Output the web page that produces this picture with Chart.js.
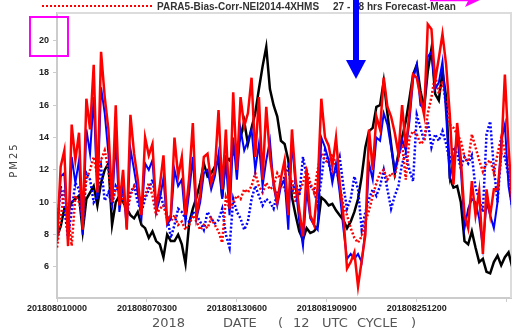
<!DOCTYPE html>
<html>
<head>
<meta charset="utf-8">
<title>PM25</title>
<script src="https://cdn.jsdelivr.net/npm/chart.js@4"></script>
<style>
  html, body { margin: 0; padding: 0; background: #fff; }
  #grafico { display: block; }
</style>
</head>
<body>
<canvas id="grafico" width="519" height="333"></canvas>
<script>
// Valores, uno cada 6 horas desde 2018080100
const paso = 6;

const observado = [
    7.9, 8.5, 9.6, 9.4, 10.0, 10.2, 10.4, 8.2, 10.2, 10.6,
    11.0, 9.8, 11.2, 12.0, 12.4, 8.6, 10.0, 10.4, 10.0, 9.6,
    9.2, 9.0, 9.4, 8.6, 8.4, 7.8, 8.2, 7.6, 7.4, 6.6,
    8.0, 7.6, 7.6, 8.0, 7.4, 6.2, 8.7, 9.6, 10.3, 11.2,
    12.4, 11.6, 11.8, 12.2, 12.6, 10.3, 12.8, 12.6, 13.0, 13.4,
    14.0, 15.0, 13.6, 14.6, 15.5, 17.0, 18.4, 19.6, 17.0, 16.0,
    15.3, 13.8, 13.6, 12.6, 10.3, 9.2, 8.2, 7.7, 8.4, 8.1,
    8.2, 8.5, 10.3, 10.1, 9.8, 9.9, 9.5, 9.2, 8.9, 8.4,
    8.8, 9.4, 10.2, 11.6, 13.4, 14.4, 14.6, 15.9, 16.0, 17.5,
    15.5, 13.6, 11.8, 13.0, 14.0, 15.0, 16.4, 17.9, 18.5, 16.9,
    15.8, 18.1, 19.5, 16.7, 16.3, 18.1, 16.5, 11.5, 10.9, 11.0,
    10.0, 7.6, 7.4, 8.2, 7.2, 6.3, 6.5, 5.7, 5.6, 6.3,
    6.7, 6.1, 6.6, 6.9, 6.0
];

const rojoSolido = [
    7.6, 12.2, 13.2, 7.3, 14.8, 12.6, 14.3, 8.3, 16.4, 14.5,
    18.5, 10.6, 19.3, 16.5, 14.5, 10.0, 16.0, 9.8, 12.0, 8.3,
    15.4, 13.0, 11.4, 9.2, 14.0, 12.9, 13.6, 9.6, 11.0, 12.9,
    8.8, 9.2, 14.0, 11.6, 12.8, 9.2, 11.5, 14.9, 9.2, 10.5,
    12.8, 13.0, 11.2, 12.0, 15.7, 10.8, 14.5, 9.6, 16.8, 12.0,
    16.5, 14.7, 15.5, 17.7, 12.8, 16.5, 11.4, 15.9, 12.8, 11.2,
    10.0, 11.5, 12.6, 9.2, 14.5, 11.4, 9.5, 7.9, 12.0, 9.2,
    8.6, 11.0, 16.4, 14.0, 13.5, 12.2, 14.0, 11.2, 9.2, 5.9,
    6.3, 6.9, 4.8, 6.4, 8.0, 14.5, 12.0, 15.3, 14.5, 17.7,
    15.9, 15.3, 14.3, 13.0, 16.0, 13.4, 15.5, 17.9, 17.7, 16.5,
    15.4, 21.0, 20.7, 17.5, 18.9, 20.4, 18.5, 15.4, 11.1, 14.9,
    12.7, 9.2, 8.4, 11.3, 9.2, 10.7, 6.8, 10.8, 9.2, 10.8,
    10.8, 13.0, 17.9, 13.4, 10.0
];

const azulSolido = [
    7.8, 11.6, 11.8, 7.8, 12.8, 11.2, 12.6, 8.0, 14.5, 13.0,
    16.5, 10.2, 17.1, 15.5, 13.0, 9.8, 13.9, 9.4, 11.2, 8.4,
    13.3, 12.0, 10.6, 9.0, 12.4, 12.0, 12.6, 9.4, 10.2, 11.5,
    8.6, 9.0, 12.0, 11.0, 11.4, 8.8, 10.6, 12.8, 9.0, 10.0,
    11.8, 12.0, 10.8, 11.6, 13.0, 10.2, 12.6, 9.2, 14.0, 11.4,
    14.5, 13.2, 13.8, 14.5, 12.0, 13.6, 11.0, 12.6, 13.8, 11.0,
    9.8, 11.0, 11.4, 8.3, 13.8, 11.0, 8.8, 7.3, 10.8, 9.0,
    8.6, 8.3, 14.0, 13.4, 12.6, 11.2, 12.4, 10.6, 8.4, 6.5,
    6.8, 6.5, 6.8, 6.3, 8.3, 12.4, 11.4, 14.0, 13.8, 15.5,
    14.8, 13.4, 12.0, 12.8, 13.9, 13.2, 15.0, 17.6, 18.5, 16.0,
    15.8, 19.0, 19.3, 17.0, 17.4, 18.7, 15.4, 11.5, 12.6, 14.0,
    12.1, 8.4, 9.6, 10.2, 10.0, 9.0, 7.2, 10.0, 9.2, 8.4,
    10.0, 13.8, 14.8, 11.0, 9.6
];

// PARA5-Bias-Corr-NEI2014-4XHMS (rojo punteado)
const rojoPunteado = [
    7.2, 9.0, 10.8, 9.2, 7.3, 10.4, 10.0, 9.2, 11.4, 12.0,
    12.8, 11.6, 12.6, 13.2, 12.0, 10.0, 10.8, 11.0, 10.2, 9.2,
    10.4, 11.0, 10.6, 10.0, 10.4, 11.2, 10.4, 9.2, 9.6, 9.8,
    9.0, 8.8, 9.2, 8.6, 8.8, 8.3, 8.6, 9.2, 8.8, 8.3,
    8.6, 8.4, 9.0, 8.6, 8.2, 7.5, 10.3, 9.6, 10.0, 10.4,
    10.2, 10.8, 10.6, 11.0, 11.8, 11.0, 10.6, 11.2, 10.8, 11.0,
    11.8, 11.4, 10.8, 10.4, 11.4, 10.0, 10.6, 11.2, 12.0, 11.2,
    10.6, 12.0, 13.0, 12.6, 12.4, 13.0, 12.2, 11.0, 9.8, 9.2,
    8.4, 7.8, 7.5, 7.9, 8.8, 9.5, 10.4, 11.2, 11.8, 12.0,
    11.4, 11.8, 11.6, 12.8, 13.6, 11.4, 14.0, 14.4, 14.2, 13.6,
    13.8, 15.5, 16.5, 17.9, 16.7, 17.5, 16.0, 14.8, 14.6, 14.2,
    13.8, 12.8, 12.5, 14.2, 13.4, 12.6, 11.9, 12.4, 12.6, 11.8,
    13.0, 14.0, 13.2, 12.0, 10.0
];

const azulPunteado = [
    8.3, 11.0, 9.6, 7.8, 9.5, 11.2, 10.8, 8.5, 11.8, 11.4,
    10.0, 10.4, 12.2, 10.1, 10.6, 9.8, 11.0, 10.6, 10.2, 9.4,
    10.6, 11.0, 10.0, 9.4, 10.2, 10.8, 11.4, 10.0, 10.6, 9.8,
    9.2, 7.8, 8.6, 9.6, 9.4, 9.0, 8.8, 9.4, 9.2, 8.8,
    8.3, 9.4, 9.0, 8.7, 8.9, 9.6, 8.0, 7.2, 10.2, 9.4,
    9.0, 8.3, 8.8, 10.2, 11.0, 10.4, 9.8, 10.2, 10.0, 9.6,
    10.6, 11.0, 11.6, 12.2, 10.6, 11.2, 10.4, 12.8, 11.6, 11.0,
    10.8, 9.8, 11.4, 13.2, 12.4, 11.6, 12.0, 12.8, 11.0, 9.6,
    10.2, 11.6, 10.8, 8.3, 9.4, 10.2, 10.8, 10.4, 11.0, 12.0,
    10.8, 9.6, 10.4, 11.0, 12.4, 13.0, 12.0, 11.3, 15.4, 14.6,
    13.8, 15.0, 13.4, 14.2, 13.8, 14.4, 13.6, 12.5, 13.4, 13.0,
    12.1, 12.8, 12.4, 12.9, 10.9, 10.2, 9.4, 14.2, 15.0, 12.1,
    10.0, 13.0, 12.8, 11.6, 9.6
];

// Marcas de los ejes (horas desde el inicio)
const xTicks = [0, 147, 294, 441, 588, 735];
const xEtiquetas = ['201808010000', '201808070300', '201808130600', '201808190900', '201808251200', ''];
const yTicks = [6, 8, 10, 12, 14, 16, 18, 20];

function serie(valores) {
    return valores.map((v, i) => ({ x: i * paso, y: v }));
}

const fuenteEjes = { family: '"Liberation Sans", Arial, sans-serif', size: 9, weight: 'bold' };

// Marco, leyenda, títulos y anotaciones dibujadas a mano
const decoraciones = {
    id: 'decoraciones',
    beforeDatasetsDraw(chart) {
        const ctx = chart.ctx;
        const a = chart.chartArea;
        ctx.save();
        ctx.strokeStyle = '#dcdcdc';
        ctx.lineWidth = 2;
        ctx.beginPath();
        ctx.moveTo(a.left, a.top);
        ctx.lineTo(a.right, a.top);
        ctx.lineTo(a.right, a.bottom);
        ctx.stroke();
        ctx.restore();
    },
    afterDraw(chart) {
        const ctx = chart.ctx;
        ctx.save();

        // leyenda
        ctx.strokeStyle = '#ff0000';
        ctx.lineWidth = 2;
        ctx.setLineDash([2, 2]);
        ctx.beginPath();
        ctx.moveTo(42, 6);
        ctx.lineTo(153, 6);
        ctx.stroke();
        ctx.setLineDash([]);
        ctx.fillStyle = '#333';
        ctx.font = 'bold 10px "Liberation Sans", Arial, sans-serif';
        ctx.textBaseline = 'alphabetic';
        ctx.fillText('PARA5-Bias-Corr-NEI2014-4XHMS', 157, 10);
        ctx.fillText('27 - 48 hrs Forecast-Mean', 333, 10);

        // título del eje y
        ctx.save();
        ctx.translate(17, 160);
        ctx.rotate(-Math.PI / 2);
        ctx.textAlign = 'center';
        ctx.fillStyle = '#444';
        ctx.font = '10px "DejaVu Sans", sans-serif';
        ctx.letterSpacing = '2px';
        ctx.fillText('PM25', 0, 0);
        ctx.restore();

        // título del eje x
        ctx.fillStyle = '#555';
        ctx.font = '13px "DejaVu Sans", sans-serif';
        [['2018', 152], ['DATE', 223], ['(', 278], ['12', 293], ['UTC', 322], ['CYCLE', 357], [')', 411]]
            .forEach(([t, x]) => ctx.fillText(t, x, 327));

        // flecha azul
        ctx.fillStyle = '#0000ff';
        ctx.fillRect(353, 0, 6, 62);
        ctx.beginPath();
        ctx.moveTo(346, 60);
        ctx.lineTo(366, 60);
        ctx.lineTo(356, 79);
        ctx.closePath();
        ctx.fill();

        // recuadro y flecha magenta
        ctx.strokeStyle = '#ff00ff';
        ctx.lineWidth = 2;
        ctx.strokeRect(30, 17, 38, 39);
        ctx.lineWidth = 1.5;
        ctx.beginPath();
        ctx.moveTo(430, 0.5);
        ctx.lineTo(476, 0.5);
        ctx.stroke();
        ctx.fillStyle = '#ff00ff';
        ctx.beginPath();
        ctx.moveTo(465, 7);
        ctx.lineTo(469, -1);
        ctx.lineTo(482, -1);
        ctx.closePath();
        ctx.fill();

        ctx.restore();
    }
};

new Chart(document.getElementById('grafico'), {
    type: 'line',
    data: {
        datasets: [
            { data: serie(rojoSolido), borderColor: '#ff0000', borderWidth: 2.5 },
            { data: serie(azulSolido), borderColor: '#0000ff', borderWidth: 2 },
            { data: serie(rojoPunteado), borderColor: '#ff0000', borderWidth: 2.5, borderDash: [2, 2] },
            { data: serie(azulPunteado), borderColor: '#0000ff', borderWidth: 2.5, borderDash: [2, 2] },
            { data: serie(observado), borderColor: '#000000', borderWidth: 2.5 }
        ]
    },
    options: {
        responsive: false,
        animation: false,
        devicePixelRatio: 1,
        elements: { point: { radius: 0 }, line: { tension: 0 } },
        layout: { padding: { left: 0, top: 13, right: 8, bottom: 0 } },
        plugins: { legend: { display: false }, tooltip: { enabled: false } },
        scales: {
            x: {
                type: 'linear',
                min: 0,
                max: 742,
                afterBuildTicks: s => { s.ticks = xTicks.map(v => ({ value: v })); },
                afterFit: s => { s.height = 35; },
                ticks: {
                    autoSkip: false,
                    maxRotation: 0,
                    padding: 1,
                    color: '#222',
                    font: fuenteEjes,
                    callback: (v, i) => xEtiquetas[i]
                },
                grid: { drawOnChartArea: false, tickLength: 4, color: '#cccccc' },
                border: { color: '#cccccc', width: 2 }
            },
            y: {
                min: 4.08,
                max: 21.7,
                afterBuildTicks: s => { s.ticks = yTicks.map(v => ({ value: v })); },
                afterFit: s => { s.width = 57; },
                ticks: {
                    padding: 4,
                    color: '#222',
                    font: fuenteEjes,
                    callback: v => String(v)
                },
                grid: { drawOnChartArea: false, tickLength: 4, color: '#cccccc' },
                border: { color: '#cccccc', width: 2 }
            }
        }
    },
    plugins: [decoraciones]
});
</script>
</body>
</html>
